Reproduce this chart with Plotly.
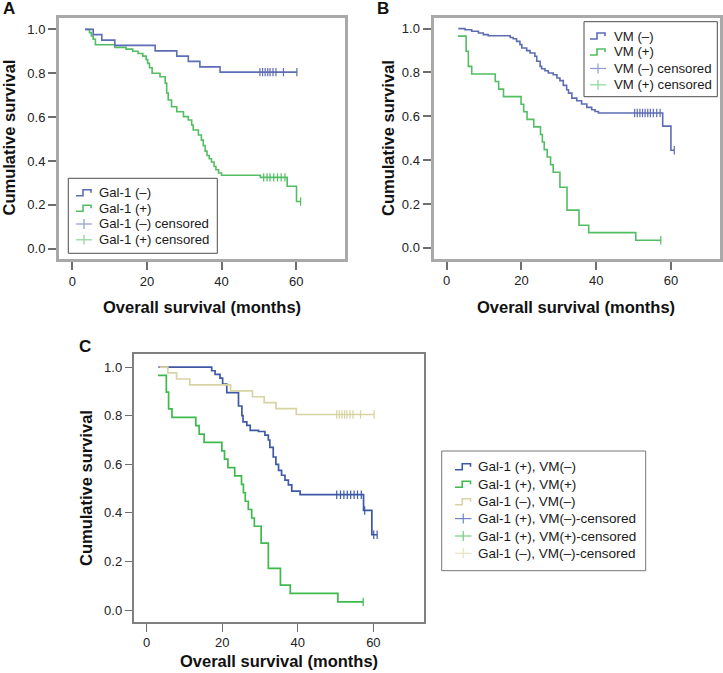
import numpy as np
import plotly.graph_objects as go

W, H = 723, 673
FONT = "Liberation Sans, Arial, sans-serif"

# ---------------- data (months, cumulative survival) ----------------
# Panel A: Gal-1 (-)
galneg_t = [3.4, 5.6, 7.9, 11.4, 22.2, 28.0, 31.1, 34.2, 39.6]
galneg_s = [1.0, 0.976, 0.951, 0.927, 0.902, 0.878, 0.854, 0.829, 0.805]
galneg_end = 60.2
galneg_cens = [50.3, 51.0, 51.7, 52.4, 53.0, 53.8, 54.6, 56.6, 60.2]

# Panel A: Gal-1 (+)
galpos_t = [3.4, 4.6, 5.1, 5.6, 6.2, 11.4, 14.4, 16.2, 17.6, 18.9, 19.8, 20.2, 20.7,
            21.4, 23.5, 24.9, 25.3, 25.7, 26.6, 28.0, 29.8, 31.1, 32.0, 32.4, 33.8,
            34.6, 35.1, 35.6, 36.1, 36.7, 37.3, 38.0, 38.5, 39.2, 40.0, 50.4, 57.6, 60.1]
galpos_s = [1.0, 0.985, 0.97, 0.955, 0.93, 0.918, 0.91, 0.90, 0.89, 0.878, 0.862, 0.845,
            0.825, 0.80, 0.784, 0.755, 0.71, 0.678, 0.647, 0.624, 0.602, 0.587, 0.564,
            0.541, 0.518, 0.495, 0.47, 0.445, 0.425, 0.41, 0.395, 0.375, 0.36, 0.345,
            0.335, 0.325, 0.285, 0.215]
galpos_end = 61.2
galpos_cens = [51.3, 52.2, 53.0, 54.0, 55.0, 56.0, 57.0, 61.2]

# Panel B: VM (-)
vmneg_t = [3.1, 4.9, 6.7, 8.5, 9.8, 11.1, 17.0, 17.8, 18.7, 19.6, 20.1, 21.4, 22.3, 23.6,
           24.1, 25.0, 25.4, 26.3, 27.2, 28.5, 29.5, 30.3, 31.2, 32.1, 32.6, 33.5, 34.8,
           36.1, 37.5, 38.8, 39.7, 40.6, 57.8, 60.0]
vmneg_s = [1.0, 0.995, 0.988, 0.980, 0.973, 0.968, 0.960, 0.954, 0.942, 0.927, 0.912, 0.90,
           0.889, 0.874, 0.851, 0.828, 0.817, 0.808, 0.798, 0.79, 0.775, 0.763, 0.741,
           0.721, 0.706, 0.683, 0.671, 0.656, 0.641, 0.63, 0.622, 0.615, 0.555, 0.445]
vmneg_end = 60.9
vmneg_cens = [50.3, 51.0, 51.7, 52.4, 53.1, 53.8, 54.5, 55.3, 56.2, 57.1, 60.9]

# Panel B: VM (+)   (also Gal-1 (+), VM(+) in panel C)
vmpos_t = [3.0, 5.2, 5.8, 6.7, 13.0, 13.9, 15.2, 19.9, 20.6, 21.5, 23.3, 25.1, 25.6, 26.1,
           26.9, 27.8, 28.5, 30.3, 32.2, 35.4, 38.0, 50.6]
vmpos_s = [0.966, 0.897, 0.828, 0.793, 0.759, 0.724, 0.690, 0.655, 0.621, 0.586, 0.552,
           0.517, 0.483, 0.448, 0.414, 0.379, 0.345, 0.276, 0.172, 0.103, 0.069, 0.034]
vmpos_end = 57.3
vmpos_cens = [57.3]

# Panel C: Gal-1 (+), VM(-)
gpvn_t = [3.1, 17.2, 18.1, 19.4, 20.1, 21.2, 24.3, 25.2, 25.5, 26.5, 27.4, 29.6, 31.3, 32.2,
          32.6, 33.5, 34.2, 34.9, 35.7, 36.6, 37.5, 38.4, 40.6, 57.4, 59.6]
gpvn_s = [1.0, 0.985, 0.97, 0.955, 0.93, 0.895, 0.84, 0.80, 0.775, 0.76, 0.74, 0.735, 0.72,
          0.70, 0.67, 0.63, 0.60, 0.575, 0.555, 0.535, 0.515, 0.49, 0.475, 0.41, 0.31]
gpvn_end = 61.0
gpvn_cens = [50.3, 51.3, 52.2, 53.1, 54.0, 54.9, 55.8, 56.8, 57.7, 60.1, 61.0]

x_ticks = [0, 20, 40, 60]
y_ticks = [0.0, 0.2, 0.4, 0.6, 0.8, 1.0]
y_ticktext = ["0.0", "0.2", "0.4", "0.6", "0.8", "1.0"]

legA = ["Gal-1 (\u2013)", "Gal-1 (+)", "Gal-1 (\u2013) censored", "Gal-1 (+) censored"]
legB = ["VM (\u2013)", "VM (+)", "VM (\u2013) censored", "VM (+) censored"]
legC = ["Gal-1 (+), VM(\u2013)", "Gal-1 (+), VM(+)", "Gal-1 (\u2013), VM(\u2013)",
        "Gal-1 (+), VM(\u2013)-censored", "Gal-1 (+), VM(+)-censored",
        "Gal-1 (\u2013), VM(\u2013)-censored"]

# colours
A_BLUE, A_GREEN = "#5d6cb4", "#52bd62"
A_BLUE_C, A_GREEN_C = "#8f9ad0", "#8ad694"
C_BLUE, C_GREEN, C_TAN = "#3e58a8", "#3dba4c", "#d8d3a2"
C_BLUE_C, C_GREEN_C, C_TAN_C = "#6f82c4", "#6fd07a", "#e6e2c2"


def px(x):
    return x / W


def py(y):
    return 1 - y / H


fig = go.Figure()


def add_curve(t, s, end, cens, color, ccolor, xa, ya, lw, msize):
    xs = list(t) + [end]
    ys = list(s) + [s[-1]]
    fig.add_trace(go.Scatter(x=xs, y=ys, mode="lines", line=dict(color=color, width=lw, shape="hv"),
                             xaxis=xa, yaxis=ya, showlegend=False, hoverinfo="skip"))
    ta = np.array(t)
    idx = np.searchsorted(ta, np.array(cens), side="right") - 1
    cy = [s[i] for i in idx]
    fig.add_trace(go.Scatter(x=cens, y=cy, mode="markers",
                             marker=dict(symbol="line-ns-open", size=msize, color=ccolor,
                                         line=dict(color=ccolor, width=1.2)),
                             xaxis=xa, yaxis=ya, showlegend=False, hoverinfo="skip"))


# Panel A
add_curve(galpos_t, galpos_s, galpos_end, galpos_cens, A_GREEN, A_GREEN, "x", "y", 1.6, 6)
add_curve(galneg_t, galneg_s, galneg_end, galneg_cens, A_BLUE, A_BLUE, "x", "y", 1.6, 6)
# Panel B
add_curve(vmpos_t, vmpos_s, vmpos_end, vmpos_cens, A_GREEN, A_GREEN, "x2", "y2", 1.6, 6)
add_curve(vmneg_t, vmneg_s, vmneg_end, vmneg_cens, A_BLUE, A_BLUE, "x2", "y2", 1.6, 6)
# Panel C
add_curve(vmpos_t, vmpos_s, vmpos_end, vmpos_cens, C_GREEN, C_GREEN, "x3", "y3", 1.7, 6)
add_curve(gpvn_t, gpvn_s, gpvn_end, gpvn_cens, C_BLUE, C_BLUE, "x3", "y3", 1.7, 6)
add_curve(galneg_t, galneg_s, galneg_end, galneg_cens, C_TAN, C_TAN, "x3", "y3", 1.7, 6)

tickfont = dict(family=FONT, size=13, color="#222")


def xax(dom, rng, anchor, lc, lw, tl, tw):
    return dict(domain=[px(dom[0]), px(dom[1])], range=rng, anchor=anchor,
                tickvals=x_ticks, ticks="outside", ticklen=tl, tickwidth=tw, tickcolor="#6e6e6e",
                showline=True, linecolor=lc, linewidth=lw, mirror=True,
                showgrid=False, zeroline=False, tickfont=tickfont, fixedrange=True)


def yax(dom, rng, anchor, lc, lw, tl, tw):
    return dict(domain=[py(dom[1]), py(dom[0])], range=rng, anchor=anchor,
                tickvals=y_ticks, ticktext=y_ticktext, ticks="outside", ticklen=tl, tickwidth=tw,
                tickcolor="#6e6e6e", showline=True, linecolor=lc, linewidth=lw, mirror=True,
                showgrid=False, zeroline=False, tickfont=tickfont, fixedrange=True)


layout = dict(
    width=W, height=H, margin=dict(l=0, r=0, t=0, b=0),
    paper_bgcolor="white", plot_bgcolor="white", showlegend=False,
    xaxis=xax((59, 345), [-3.57, 73.1], "y", "#a9a9a9", 3, 8, 2),
    yaxis=yax((17.5, 259), [-0.047, 1.054], "x", "#a9a9a9", 3, 8, 2),
    xaxis2=xax((433.5, 719.5), [-3.53, 73.0], "y2", "#a9a9a9", 3, 8, 2),
    yaxis2=yax((17.5, 258.5), [-0.049, 1.051], "x2", "#a9a9a9", 3, 8, 2),
    xaxis3=xax((133.5, 424), [-3.49, 73.4], "y3", "#808080", 1.5, 8, 1.3),
    yaxis3=yax((353.5, 622), [-0.049, 1.056], "x3", "#808080", 1.5, 7, 1.3),
)
fig.update_layout(**layout)

annotations = []
shapes = []
bold = dict(family=FONT, size=16.5, color="#111")


def text(x, y, s, font, xanchor="center", angle=0):
    annotations.append(dict(x=px(x), y=py(y), xref="paper", yref="paper", text=s, showarrow=False,
                            font=font, xanchor=xanchor, yanchor="middle", textangle=angle))


# titles
text(202, 307, "<b>Overall survival (months)</b>", bold)
text(576, 307, "<b>Overall survival (months)</b>", bold)
text(279, 661, "<b>Overall survival (months)</b>", bold)
text(8.5, 138, "<b>Cumulative survival</b>", bold, angle=-90)
text(388, 138, "<b>Cumulative survival</b>", bold, angle=-90)
text(86, 488, "<b>Cumulative survival</b>", bold, angle=-90)
# panel letters
text(8.5, 8.5, "<b>A</b>", dict(family=FONT, size=17, color="#111"))
text(382.5, 8.5, "<b>B</b>", dict(family=FONT, size=17, color="#111"))
text(85, 347, "<b>C</b>", dict(family=FONT, size=17, color="#111"))


def legend(box, labels, colors, kinds, rows, ix0, ix1, tx, fsize, bcolor):
    x0, y0, x1, y1 = box
    shapes.append(dict(type="rect", xref="paper", yref="paper", x0=px(x0), x1=px(x1),
                       y0=py(y1), y1=py(y0), line=dict(color=bcolor, width=1),
                       fillcolor="white", layer="above"))
    im = (ix0 + ix1) / 2
    for lab, col, kind, yc in zip(labels, colors, kinds, rows):
        if kind == "step":
            path = (f"M {px(ix0)},{py(yc + 3)} L {px(im - 1)},{py(yc + 3)} L {px(im - 1)},{py(yc - 3)} "
                    f"L {px(ix1 - 1)},{py(yc - 3)} L {px(ix1 - 1)},{py(yc)}")
            shapes.append(dict(type="path", xref="paper", yref="paper", path=path,
                               line=dict(color=col, width=1.6), layer="above"))
        else:
            shapes.append(dict(type="line", xref="paper", yref="paper", x0=px(ix0), x1=px(ix1),
                               y0=py(yc), y1=py(yc), line=dict(color=col, width=1.2), layer="above"))
            shapes.append(dict(type="line", xref="paper", yref="paper", x0=px(im), x1=px(im),
                               y0=py(yc - 5), y1=py(yc + 5), line=dict(color=col, width=1.2),
                               layer="above"))
        text(tx, yc, lab, dict(family=FONT, size=fsize, color="#1a1a1a"), xanchor="left")


legend((68.3, 178.3, 217.3, 253.3), legA, [A_BLUE, A_GREEN, A_BLUE_C, A_GREEN_C],
       ["step", "step", "cens", "cens"], [192.7, 208.3, 224, 239.8], 76, 92, 97, 13.2, "#4d4d4d")
legend((584, 21.7, 717.3, 96.7), legB, [A_BLUE, A_GREEN, A_BLUE_C, A_GREEN_C],
       ["step", "step", "cens", "cens"], [36, 52, 68.5, 84.8], 590, 606, 612, 13.2, "#4d4d4d")
legend((441.7, 451, 645.7, 570.7), legC, [C_BLUE, C_GREEN, C_TAN, C_BLUE_C, C_GREEN_C, C_TAN_C],
       ["step", "step", "step", "cens", "cens", "cens"],
       [466.7, 484.2, 501.7, 518.6, 536, 553.3], 455, 471.5, 476, 13.5, "#777777")

fig.update_layout(annotations=annotations, shapes=shapes)
fig.write_html("out.html", config={"displayModeBar": False},
               post_script="document.body.style.margin='0';document.body.style.overflow='hidden';")
